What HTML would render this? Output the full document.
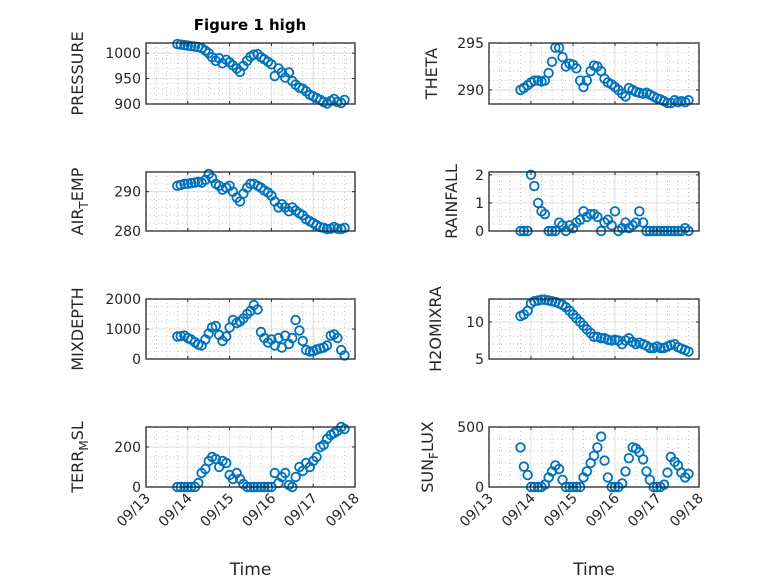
<!DOCTYPE html>
<html><head><meta charset="utf-8"><style>
body{margin:0;background:#fff}
svg{display:block;font-family:"DejaVu Sans","Liberation Sans",sans-serif}
</style></head><body>
<svg id="fig" width="778" height="583" viewBox="0 0 778 583" xmlns="http://www.w3.org/2000/svg">
<rect width="778" height="583" fill="#fff"/>
<text x="250" y="30" text-anchor="middle" font-weight="bold" font-size="15" fill="#000">Figure 1 high</text>
</svg>
<script>
const T=[13.75,13.83,13.92,14.00,14.08,14.17,14.25,14.33,14.42,14.50,14.58,14.67,14.75,14.83,14.92,15.00,15.08,15.17,15.25,15.33,15.42,15.50,15.58,15.67,15.75,15.83,15.92,16.00,16.08,16.17,16.25,16.33,16.42,16.50,16.58,16.67,16.75,16.83,16.92,17.00,17.08,17.17,17.25,17.33,17.42,17.50,17.58,17.67,17.75];
const xTicks=[13,14,15,16,17,18];
const xTickLabels=["09/13","09/14","09/15","09/16","09/17","09/18"];
const pressure=[1018,1017,1016,1015,1014,1013,1012,1010,1005,1000,992,985,990,980,987,982,976,970,963,975,985,993,997,998,992,988,983,978,955,970,962,952,962,945,938,932,930,925,918,915,912,908,904,901,906,910,904,902,908];
const airTemp=[291.5,291.7,292,292,292.2,292.3,292.5,292.3,293,294.5,293.5,292,291.5,290.5,291,291.5,290,288.5,287.5,289.5,291,292,292,291.5,291,290.3,289.8,289,287.5,286,286.8,286,285,286,285.2,284.5,284,283,282.5,282,281.5,281,280.8,280.5,280.6,281,280.6,280.5,280.8];
const mixDepth=[750,760,780,700,650,560,480,450,650,850,1050,1100,800,600,750,1050,1300,1200,1250,1350,1500,1600,1800,1650,900,700,550,650,450,700,380,780,500,700,1300,950,600,300,250,260,320,350,380,450,780,820,700,300,120];
const terrMsl=[0,0,0,0,0,0,20,70,90,130,150,140,100,130,120,60,40,70,40,15,0,0,0,0,0,0,0,0,70,20,50,70,10,0,50,100,80,120,100,130,150,200,210,240,260,270,280,300,290];
const theta=[290,290.2,290.5,290.8,291,291,290.9,291,291.8,293,294.5,294.5,293.5,292.5,292.8,292.7,292.3,291,290.3,291,292,292.6,292.5,292,291.2,290.8,290.6,290.3,290,289.6,289.3,290.2,290,289.8,289.7,289.6,289.7,289.5,289.3,289.1,289,288.8,288.6,288.6,288.9,288.7,288.8,288.7,288.9];
const rainfall=[0,0,0,2,1.6,1.0,0.7,0.6,0,0,0,0.3,0.2,0,0.2,0.1,0.3,0.4,0.7,0.5,0.6,0.6,0.5,0,0.3,0.4,0.2,0.7,0,0.1,0.3,0.1,0.2,0.3,0.7,0.3,0,0,0,0,0,0,0,0,0,0,0,0.1,0];
const h2oMix=[10.8,11,11.5,12.5,12.8,12.9,13,13,12.9,12.8,12.7,12.5,12.3,12,11.5,11,10.5,10,9.5,9,8.5,8,8,7.8,7.8,7.6,7.5,7.6,7.5,7,7.5,7.8,7.3,7,7.2,7,6.8,6.5,6.5,6.7,6.5,6.5,6.7,6.9,7,6.6,6.4,6.2,6.0];
const sunFlux=[330,170,100,0,0,0,0,20,80,130,180,150,60,0,0,0,0,0,80,130,200,260,330,420,220,80,0,0,0,30,130,240,330,320,290,230,130,60,0,0,0,20,120,250,210,180,120,80,110];

const NS="http://www.w3.org/2000/svg";
const svg=document.getElementById('fig');
function mk(tag,attrs,parent){const e=document.createElementNS(NS,tag);for(const k in attrs)e.setAttribute(k,attrs[k]);(parent||svg).appendChild(e);return e;}

const cols=[[146,355],[489,699]];
const rows=[[43,104],[172,231],[299,359],[427,487]];
const panels=[
 {name:"pressure",c:0,r:0,data:pressure,ymin:900,ymax:1020,yt:[900,950,1000],ym:10,label:["PRESSURE"]},
 {name:"theta",c:1,r:0,data:theta,ymin:288.5,ymax:295,yt:[290,295],ym:1,label:["THETA"]},
 {name:"air-temp",c:0,r:1,data:airTemp,ymin:280,ymax:295,yt:[280,290],ym:2,label:["AIR","T","EMP"]},
 {name:"rainfall",c:1,r:1,data:rainfall,ymin:0,ymax:2.1,yt:[0,1,2],ym:0.25,label:["RAINFALL"]},
 {name:"mixdepth",c:0,r:2,data:mixDepth,ymin:0,ymax:2000,yt:[0,1000,2000],ym:250,label:["MIXDEPTH"]},
 {name:"h2omixra",c:1,r:2,data:h2oMix,ymin:5,ymax:13.1,yt:[5,10],ym:1,label:["H2OMIXRA"]},
 {name:"terr-msl",c:0,r:3,data:terrMsl,ymin:0,ymax:300,yt:[0,200],ym:50,label:["TERR","M","SL"]},
 {name:"sun-flux",c:1,r:3,data:sunFlux,ymin:0,ymax:500,yt:[0,500],ym:100,label:["SUN","F","LUX"]}
];
panels.forEach(p=>{
 const [x0,x1]=cols[p.c],[y0,y1]=rows[p.r];
 const g=mk('g',{});
 
 
 const xs=v=>x0+(v-13)/5*(x1-x0);
 const ys=v=>y1-(v-p.ymin)/(p.ymax-p.ymin)*(y1-y0);
 for(let v=13;v<=18.001;v+=0.25){const X=xs(v);mk('line',{x1:X,x2:X,y1:y0,y2:y1,stroke:'#c8c8c8','stroke-width':1,'stroke-dasharray':'1 3'},g);}
 for(let v=Math.ceil(p.ymin/p.ym)*p.ym;v<=p.ymax+1e-9;v+=p.ym){const Y=ys(v);mk('line',{x1:x0,x2:x1,y1:Y,y2:Y,stroke:'#c8c8c8','stroke-width':1,'stroke-dasharray':'1 3'},g);}
 xTicks.forEach(v=>{const X=xs(v);mk('line',{x1:X,x2:X,y1:y0,y2:y1,stroke:'#dfdfdf','stroke-width':1},g);});
 p.yt.forEach(v=>{const Y=ys(v);mk('line',{x1:x0,x2:x1,y1:Y,y2:Y,stroke:'#dfdfdf','stroke-width':1},g);});
 T.forEach((t,i)=>{const c=mk('circle',{cx:xs(t),cy:ys(p.data[i]),r:4.3,fill:'none',stroke:'#0072BD','stroke-width':1.8},g);
  
  });
 mk('rect',{x:x0,y:y0,width:x1-x0,height:y1-y0,fill:'none',stroke:'#262626','stroke-width':1.3},g);
 xTicks.forEach((v,i)=>{const X=xs(v);mk('line',{x1:X,x2:X,y1:y1,y2:y1-3,stroke:'#262626'},g);mk('line',{x1:X,x2:X,y1:y0,y2:y0+3,stroke:'#262626'},g);
  if(p.r===3){const tx=mk('text',{x:X+5,y:y1+12,'text-anchor':'end','font-size':14,fill:'#262626',transform:`rotate(-45 ${X+5} ${y1+12})`},g);tx.textContent=xTickLabels[i];
   }});
 p.yt.forEach(v=>{const Y=ys(v);mk('line',{x1:x0,x2:x0+3,y1:Y,y2:Y,stroke:'#262626'},g);mk('line',{x1:x1,x2:x1-3,y1:Y,y2:Y,stroke:'#262626'},g);
  const tx=mk('text',{x:x0-5,y:Y+5,'text-anchor':'end','font-size':14,fill:'#262626'},g);tx.textContent=String(v);
  });
 const lx=p.c===0?83:437+(p.name==='rainfall'?20:p.name==='sun-flux'?-4:0)+(p.name==='h2omixra'?4:0);
 const ly=(y0+y1)/2;
 const lab=mk('text',{x:lx,y:ly,'text-anchor':'middle','font-size':16,fill:'#262626',transform:`rotate(-90 ${lx} ${ly})`},g);
 
 
 if(p.label.length===1){lab.textContent=p.label[0];}
 else{const a=mk('tspan',{},lab);a.textContent=p.label[0];
  const b=mk('tspan',{dy:5,'font-size':12},lab);b.textContent=p.label[1];
  const c=mk('tspan',{dy:-5},lab);c.textContent=p.label[2];}
 if(p.r===3){const tl=mk('text',{x:(x0+x1)/2,y:575,'text-anchor':'middle','font-size':17,fill:'#262626'},g);tl.textContent='Time';
  }
});
</script>
</body></html>
